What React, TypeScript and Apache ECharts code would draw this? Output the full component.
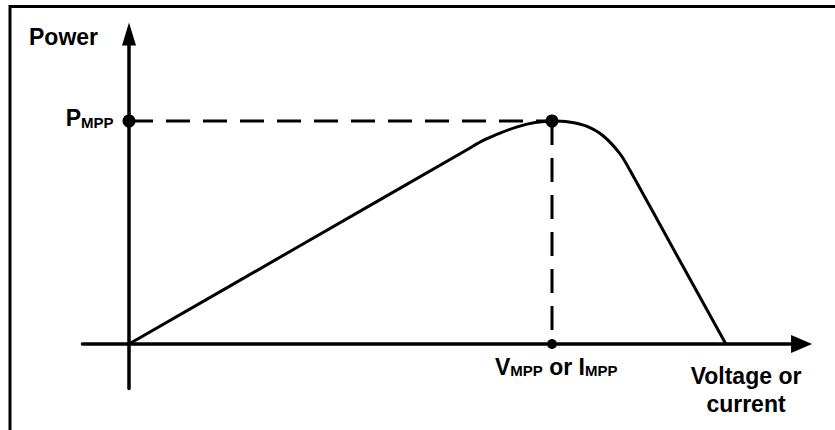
import React, { useEffect, useRef } from "react";
import * as echarts from "echarts";

// P–V (or P–I) curve, normalised so that V_MPP = 100 and P_MPP = 100
const curveX = [0, 40, 79.8, 84, 88, 92, 96, 100, 104, 108, 112, 116, 118.4, 130, 141.1];
const curveY = [0, 43.6, 87, 91.5, 94.8, 97.5, 99.3, 100, 99.6, 97.8, 93.5, 85.5, 78, 38.1, 0];

const vMpp = 100;
const pMpp = 100;

const xRange = [-11, 159];
const yRange = [-20, 139];

const yTitle = "Power";
const xTitle = "Voltage or\ncurrent";

const FONT = "'Liberation Sans', Arial, Helvetica, sans-serif";

export default function App() {
  const ref = useRef<HTMLDivElement>(null);

  useEffect(() => {
    if (!ref.current) return;
    const chart = echarts.init(ref.current, undefined, { renderer: "svg" });

    const curve = curveX.map((x, i) => [x, curveY[i]]);
    const rich = {
      m: { fontSize: 23, fontWeight: "bold", fontFamily: FONT, color: "#000", lineHeight: 23 },
      s: {
        fontSize: 15,
        fontWeight: "bold",
        fontFamily: FONT,
        color: "#000",
        lineHeight: 6,
        verticalAlign: "bottom",
      },
    };

    const axisLine = (size: number[]) => ({
      show: true,
      onZero: true,
      symbol: ["none", "triangle"],
      symbolSize: size,
      lineStyle: { color: "#000", width: 3.5 },
    });

    chart.setOption({
      animation: false,
      backgroundColor: "#fff",
      grid: { left: 82.47, right: 33.43, top: 34.03, bottom: 41.4 },
      xAxis: {
        type: "value",
        min: xRange[0],
        max: xRange[1],
        axisLine: axisLine([18, 21]),
        axisTick: { show: false },
        axisLabel: { show: false },
        splitLine: { show: false },
      },
      yAxis: {
        type: "value",
        min: yRange[0],
        max: yRange[1],
        axisLine: axisLine([14, 23]),
        axisTick: { show: false },
        axisLabel: { show: false },
        splitLine: { show: false },
      },
      graphic: [
        {
          type: "polyline",
          shape: { points: [[10, 430], [10, 6.5], [835, 6.5]] },
          style: { stroke: "#000", lineWidth: 3, fill: "none" },
        },
        {
          type: "text",
          x: 29,
          y: 25,
          style: {
            text: yTitle,
            font: `bold 23px ${FONT}`,
            fill: "#000",
            align: "left",
            verticalAlign: "top",
          },
        },
        {
          type: "text",
          x: 746,
          y: 362,
          style: {
            text: xTitle,
            font: `bold 23px ${FONT}`,
            fill: "#000",
            align: "center",
            verticalAlign: "top",
            lineHeight: 28,
          },
        },
      ],
      series: [
        {
          type: "line",
          data: curve,
          smooth: 0.35,
          showSymbol: false,
          lineStyle: { color: "#000", width: 3 },
          z: 3,
        },
        {
          type: "line",
          data: [[0, pMpp], [vMpp, pMpp]],
          showSymbol: false,
          lineStyle: { color: "#000", width: 3, type: [24, 13] },
          z: 2,
        },
        {
          type: "line",
          data: [[vMpp, pMpp], [vMpp, 0]],
          showSymbol: false,
          lineStyle: { color: "#000", width: 3, type: [24, 13] },
          z: 2,
        },
        {
          type: "scatter",
          z: 5,
          itemStyle: { color: "#000", opacity: 1 },
          label: { color: "#000", opacity: 1 },
          data: [
            {
              value: [0, pMpp],
              symbolSize: 13,
              label: {
                show: true,
                position: "left",
                distance: 9,
                offset: [0, -3],
                color: "#000",
                formatter: "{m|P}{s|MPP}",
                rich,
              },
            },
            { value: [vMpp, pMpp], symbolSize: 13 },
            {
              value: [vMpp, 0],
              symbolSize: 10,
              label: {
                show: true,
                position: "bottom",
                distance: 6,
                align: "left",
                offset: [-57, 0],
                color: "#000",
                formatter: "{m|V}{s|MPP}{m| or I}{s|MPP}",
                rich,
              },
            },
          ],
        },
      ],
    });

    return () => chart.dispose();
  }, []);

  return (
    <div
      ref={ref}
      style={{ position: "fixed", left: 0, top: 0, width: 835, height: 430, background: "#fff" }}
    />
  );
}
